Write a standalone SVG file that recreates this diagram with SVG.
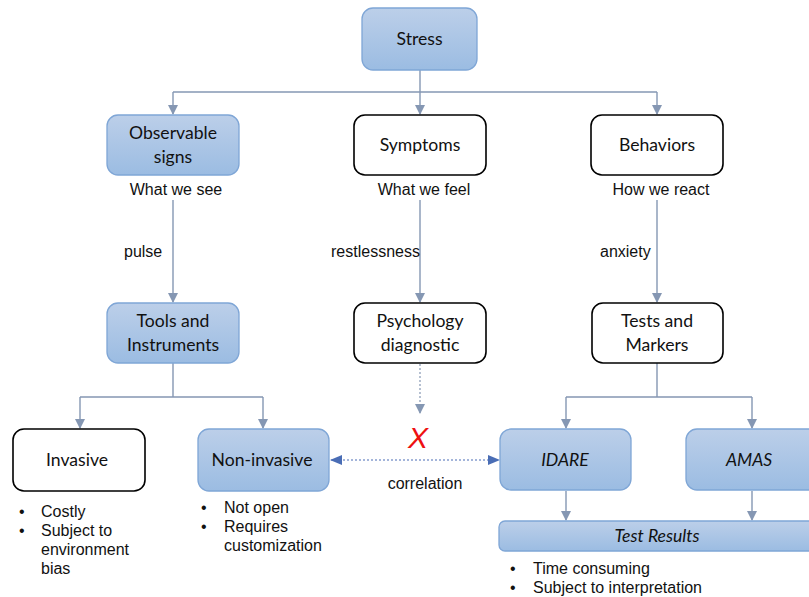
<svg xmlns="http://www.w3.org/2000/svg" width="809" height="597" viewBox="0 0 809 597">
<style>
.blue{fill:url(#g);stroke:#7fa6d6;stroke-width:1.3}
.white{fill:#fff;stroke:#000;stroke-width:1.6}
.nt{font-family:Lato,"Open Sans",sans-serif;font-size:17.6px;fill:#111;text-anchor:middle}
.it{font-style:italic}
.lb{font-family:"Liberation Sans",Arial,sans-serif;font-size:16px;fill:#111}
.mid{text-anchor:middle}
.c{fill:none;stroke:#8597b3;stroke-width:1.4}
.d{fill:none;stroke:#8597b3;stroke-width:1.2;stroke-dasharray:2 2}
.cr{fill:none;stroke:#4a6db5;stroke-width:1.2;stroke-dasharray:2 2}
</style>
<defs>
<linearGradient id="g" x1="0" y1="0" x2="0" y2="1">
<stop offset="0" stop-color="#bccfe9"/>
<stop offset="1" stop-color="#9bbce2"/>
</linearGradient>
<marker id="a" markerWidth="10" markerHeight="10" refX="9" refY="5" orient="auto" markerUnits="userSpaceOnUse">
<path d="M0,0 L10,5 L0,10 Z" fill="#8597b3"/>
</marker>
<marker id="b" markerWidth="12" markerHeight="10" refX="11" refY="5" orient="auto-start-reverse" markerUnits="userSpaceOnUse">
<path d="M0,0 L12,5 L0,10 Z" fill="#4a6db5"/>
</marker>
</defs>
<g id="connectors">
<path class="c" d="M420,70 V92"/>
<path class="c" d="M173,92 H657"/>
<path class="c" d="M173,92 V114" marker-end="url(#a)"/>
<path class="c" d="M420,92 V114" marker-end="url(#a)"/>
<path class="c" d="M657,92 V114" marker-end="url(#a)"/>
<path class="c" d="M173,200 V302" marker-end="url(#a)"/>
<path class="c" d="M420,200 V302" marker-end="url(#a)"/>
<path class="c" d="M657,200 V302" marker-end="url(#a)"/>
<path class="c" d="M173,363 V397 M80,397 H263"/>
<path class="c" d="M80,397 V428" marker-end="url(#a)"/>
<path class="c" d="M263,397 V428" marker-end="url(#a)"/>
<path class="c" d="M657,363 V397 M566,397 H752"/>
<path class="c" d="M566,397 V428" marker-end="url(#a)"/>
<path class="c" d="M752,397 V428" marker-end="url(#a)"/>
<path class="d" d="M420,364 V413" marker-end="url(#a)"/>
<path class="cr" d="M331,460 H499" marker-start="url(#b)" marker-end="url(#b)"/>
<path class="c" d="M566,491 V520" marker-end="url(#a)"/>
<path class="c" d="M752,491 V520" marker-end="url(#a)"/>
</g>
<g id="stress"><rect class="blue" x="362" y="8" width="115" height="62" rx="11"/><text class="nt" x="419.5" y="45">Stress</text></g>
<g id="observable"><rect class="blue" x="107" y="115" width="132" height="60" rx="11"/><text class="nt" x="173" y="139">Observable</text><text class="nt" x="173" y="163">signs</text></g>
<g id="symptoms"><rect class="white" x="354" y="115" width="132" height="60" rx="11"/><text class="nt" x="420" y="151">Symptoms</text></g>
<g id="behaviors"><rect class="white" x="591" y="115" width="132" height="60" rx="11"/><text class="nt" x="657" y="151">Behaviors</text></g>
<text class="lb mid" x="176" y="195">What we see</text>
<text class="lb mid" x="424" y="195">What we feel</text>
<text class="lb mid" x="661" y="195">How we react</text>
<text class="lb" x="124" y="257">pulse</text>
<text class="lb" x="331" y="257">restlessness</text>
<text class="lb" x="600" y="257">anxiety</text>
<g id="tools"><rect class="blue" x="107" y="303" width="132" height="60" rx="11"/><text class="nt" x="173" y="327">Tools and</text><text class="nt" x="173" y="351">Instruments</text></g>
<g id="psychology"><rect class="white" x="354" y="303" width="132" height="60" rx="11"/><text class="nt" x="420" y="327">Psychology</text><text class="nt" x="420" y="351">diagnostic</text></g>
<g id="tests"><rect class="white" x="592" y="303" width="131" height="60" rx="11"/><text class="nt" x="657" y="327">Tests and</text><text class="nt" x="657" y="351">Markers</text></g>
<g id="invasive"><rect class="white" x="13" y="429" width="132" height="62" rx="11"/><text class="nt" x="77" y="466">Invasive</text></g>
<g id="noninvasive"><rect class="blue" x="198" y="429" width="131" height="62" rx="11"/><text class="nt" x="262" y="466">Non-invasive</text></g>
<g id="idare"><rect class="blue" x="500" y="429" width="131" height="61" rx="11"/><text class="nt it" x="565" y="466">IDARE</text></g>
<g id="amas"><rect class="blue" x="686" y="429" width="135" height="61" rx="11"/><text class="nt it" x="749" y="466">AMAS</text></g>
<g id="results"><rect class="blue" x="499" y="521" width="320" height="30" rx="6"/><text class="nt it" x="657" y="542">Test Results</text></g>
<text x="418" y="448" font-family="Liberation Sans,Arial,sans-serif" font-size="30" fill="#ee1111" text-anchor="middle" font-style="italic">X</text>
<text class="lb mid" x="425" y="489">correlation</text>
<g class="lb">
<text x="19" y="517">•</text><text x="41" y="517">Costly</text>
<text x="19" y="536">•</text><text x="41" y="536">Subject to</text>
<text x="41" y="555">environment</text>
<text x="41" y="574">bias</text>
<text x="201" y="513">•</text><text x="224" y="513">Not open</text>
<text x="201" y="532">•</text><text x="224" y="532">Requires</text>
<text x="224" y="551">customization</text>
<text x="510" y="574">•</text><text x="533" y="574">Time consuming</text>
<text x="510" y="593">•</text><text x="533" y="593">Subject to interpretation</text>
</g>
</svg>
